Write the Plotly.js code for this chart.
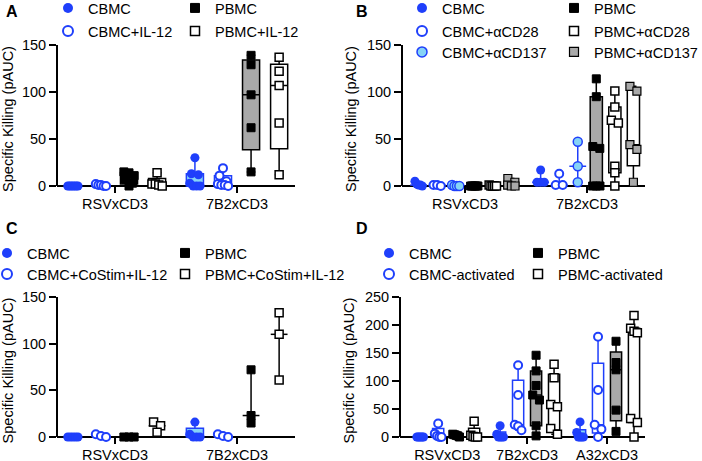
<!DOCTYPE html>
<html>
<head>
<meta charset="utf-8">
<script src="https://cdn.plot.ly/plotly-3.0.1.min.js"></script>
<style>
  html,body{margin:0;padding:0;background:#fff}
  #chart{width:702px;height:461px}
</style>
</head>
<body>
<div id="chart"></div>
<script>
"use strict"

const W = 702, H = 461
const FONT = "Liberation Sans, Arial, Helvetica, sans-serif"
const BLUE = "#1f3ffb", LIGHT = "#86d3f6", GRAY = "#a9a9a9"

// categories
const catsTwo = ["RSVxCD3", "7B2xCD3"]
const catsThree = ["RSVxCD3", "7B2xCD3", "A32xCD3"]

// panel A : one array of donors per category
const aCBMC      = [[0,0,0,0,0,0,0], [30,13,12,3,0,0,0]]
const aCBMC_IL12 = [[2,1,1,0,0], [19,11,5,2,1,1,0]]
const aPBMC      = [[15,14,11,7,3,0], [139,129,97,62,15]]
const aPBMC_IL12 = [[14,2,2,1,0], [137,122,107,67,12]]

// panel B
const bCBMC       = [[5,2,1,1,0], [17,4,4,4]]
const bCBMC_CD28  = [[1,1,0], [13,1,1]]
const bCBMC_CD137 = [[1,0,0,0], [47,21,4]]
const bPBMC       = [[0,0,0,0,0,0], [114,95,42,40,0,0,0]]
const bPBMC_CD28  = [[1,0,0,0,0], [101,84,70,67,21,14,0]]
const bPBMC_CD137 = [[8,4,1,0,0], [106,101,44,39,4]]

// panel C
const cCBMC    = [[0,0,0,0,0], [16,3,0,0,0]]
const cCBMC_CS = [[3,1,0], [3,1,0]]
const cPBMC    = [[0,0,0], [72,23,15]]
const cPBMC_CS = [[16,12,5], [133,110,61]]

// panel D
const dCBMC     = [[0,0,0,0,0,0], [20,5,0,0,0,0], [27,8,0,0,0,0]]
const dCBMC_act = [[24,6,2,0,0], [128,75,22,19,12], [179,84,22,14,0]]
const dPBMC     = [[5,4,3,2,0], [146,118,92,75,66,20,2], [171,133,120,48,10]]
const dPBMC_act = [[28,3,1,0,0], [130,106,58,54,15,5], [217,194,189,186,33,26,0]]

const looks = {
  cbmc:      {symbol:"circle", color:BLUE,    line:BLUE,    lw:0,   size:9, fill:LIGHT,   edge:BLUE},
  cbmcOpen:  {symbol:"circle", color:"#fff",  line:BLUE,    lw:2,   size:8, fill:"#fff",  edge:BLUE},
  cbmcLight: {symbol:"circle", color:LIGHT,   line:BLUE,    lw:1.5, size:9, fill:LIGHT,   edge:BLUE},
  pbmc:      {symbol:"square", color:"#000",  line:"#000",  lw:1,   size:8, fill:GRAY,    edge:"#000"},
  pbmcOpen:  {symbol:"square", color:"#fff",  line:"#000",  lw:1.5, size:8, fill:"#fff",  edge:"#000"},
  pbmcGray:  {symbol:"square", color:GRAY,    line:"#000",  lw:1.2, size:8, fill:"#fff",  edge:"#000"},
}

// px: x pixels of the axis, zero/top: y pixels of 0 and of ymax, leg: legend marker centre in px
const panels = [
  {letter:"A", lx:4, ly:12, cats:catsTwo, ymax:150, dtick:50, px:[57,295], zero:186, top:45,
   range:[-0.475,1.475], slot:0.23, boxW:0.14,
   series:[
     {name:"CBMC",       look:"cbmc",     vals:aCBMC,      kind:"box",   leg:[68,8]},
     {name:"CBMC+IL-12", look:"cbmcOpen", vals:aCBMC_IL12, kind:"box",   leg:[68,31]},
     {name:"PBMC",       look:"pbmc",     vals:aPBMC,      kind:"box",   leg:[195,8]},
     {name:"PBMC+IL-12", look:"pbmcOpen", vals:aPBMC_IL12, kind:"box",   leg:[195,31]},
   ]},
  {letter:"B", lx:354, ly:12, cats:catsTwo, ymax:150, dtick:50, px:[402,645], zero:186, top:45,
   range:[-0.516,1.475], slot:0.152, boxW:0.1,
   series:[
     {name:"CBMC",        look:"cbmc",      vals:bCBMC,       kind:"range", leg:[422,8]},
     {name:"CBMC+αCD28",  look:"cbmcOpen",  vals:bCBMC_CD28,  kind:"range", leg:[422,31]},
     {name:"CBMC+αCD137", look:"cbmcLight", vals:bCBMC_CD137, kind:"range", leg:[422,52]},
     {name:"PBMC",        look:"pbmc",      vals:bPBMC,       kind:"box",   leg:[574,8]},
     {name:"PBMC+αCD28",  look:"pbmcOpen",  vals:bPBMC_CD28,  kind:"box",   leg:[574,31]},
     {name:"PBMC+αCD137", look:"pbmcGray",  vals:bPBMC_CD137, kind:"box",   leg:[574,52]},
   ]},
  {letter:"C", lx:4, ly:228, cats:catsTwo, ymax:150, dtick:50, px:[57,295], zero:437, top:297,
   range:[-0.475,1.475], slot:0.23, boxW:0.14,
   series:[
     {name:"CBMC",               look:"cbmc",     vals:cCBMC,    kind:"box",   leg:[7,253]},
     {name:"CBMC+CoStim+IL-12",  look:"cbmcOpen", vals:cCBMC_CS, kind:"range", leg:[7,274]},
     {name:"PBMC",               look:"pbmc",     vals:cPBMC,    kind:"range", leg:[185,253]},
     {name:"PBMC+CoStim+IL-12",  look:"pbmcOpen", vals:cPBMC_CS, kind:"range", leg:[185,274]},
   ]},
  {letter:"D", lx:354, ly:228, cats:catsThree, ymax:250, dtick:50, px:[400,645], zero:437, top:297,
   range:[-0.59,2.475], slot:0.225, boxW:0.14,
   series:[
     {name:"CBMC",           look:"cbmc",     vals:dCBMC,     kind:"box", leg:[389,253]},
     {name:"CBMC-activated", look:"cbmcOpen", vals:dCBMC_act, kind:"box", leg:[389,274]},
     {name:"PBMC",           look:"pbmc",     vals:dPBMC,     kind:"box", leg:[538,253]},
     {name:"PBMC-activated", look:"pbmcOpen", vals:dPBMC_act, kind:"box", leg:[538,274]},
   ]},
]

// Prism style percentile, rank p*(n+1)
function pct(s, p){
  const n = s.length
  const r = Math.min(Math.max(p*(n+1), 1), n)
  const lo = Math.floor(r), f = r-lo
  return lo>=n ? s[n-1] : s[lo-1] + f*(s[lo]-s[lo-1])
}
function summary(vals){
  const s = [...vals].sort((a,b)=>a-b)
  return {min:s[0], max:s[s.length-1], q1:pct(s,0.25), med:pct(s,0.5), q3:pct(s,0.75)}
}

// points that would sit on top of each other are set side by side, like a column scatter
function spread(vals, yPx, colPx){
  const s = [...vals].sort((a,b)=>b-a)
  const groups = []
  s.forEach(v=>{
    const g = groups[groups.length-1]
    if(g && (g[0]-v)*yPx < 6) g.push(v)
    else groups.push([v])
  })
  const xs = [], ys = []
  groups.forEach(g=>{
    const m = g.length
    const step = m>1 ? Math.min(7, colPx/(m-1)) : 0
    g.forEach((v,j)=>{
      xs.push((j-(m-1)/2)*step)
      ys.push(v)
    })
  })
  return {dx:xs, y:ys}
}

const traces = []
const shapes = []
const annotations = []
const layout = {
  width:W, height:H,
  margin:{l:0, r:0, t:0, b:0, autoexpand:false},
  paper_bgcolor:"#fff", plot_bgcolor:"rgba(0,0,0,0)",
  font:{family:FONT, size:14.5, color:"#000"},
  boxmode:"overlay",
  showlegend:true,
  shapes:shapes, annotations:annotations,
}

const PAD = 7   // px between the zero line and the bottom of the plot area
let legendCount = 0

panels.forEach((p,k)=>{
  const xa = k===0 ? "x" : "x"+(k+1)
  const ya = k===0 ? "y" : "y"+(k+1)
  const yPx = (p.zero-p.top)/p.ymax
  const xPx = (p.px[1]-p.px[0])/(p.range[1]-p.range[0])
  const ymin = -PAD/yPx
  const ticks = []
  for(let v=0; v<=p.ymax; v+=p.dtick) ticks.push(v)

  layout["xaxis"+(k?k+1:"")] = {
    domain:[p.px[0]/W, p.px[1]/W], anchor:ya, type:"linear", range:p.range,
    tickvals:p.cats.map((c,i)=>i), ticktext:p.cats,
    ticks:"inside", ticklen:PAD, tickwidth:2, tickcolor:"#000",
    showgrid:false, zeroline:false, showline:false, fixedrange:true,
    tickfont:{size:14.5},
  }
  layout["yaxis"+(k?k+1:"")] = {
    domain:[1-(p.zero+PAD)/H, 1-p.top/H], anchor:xa, type:"linear", range:[ymin, p.ymax],
    tickvals:ticks, ticks:"outside", ticklen:7, tickwidth:2, tickcolor:"#000",
    showgrid:false, showline:false, fixedrange:true,
    zeroline:true, zerolinecolor:"#000", zerolinewidth:2,
    tickfont:{size:14.5},
    title:{text:"Specific Killing (pAUC)", font:{size:14.5}, standoff:6},
  }
  shapes.push({type:"line", xref:xa+" domain", yref:ya, x0:0, x1:0, y0:0, y1:p.ymax,
               line:{color:"#000", width:2}})
  annotations.push({text:"<b>"+p.letter+"</b>", xref:"paper", yref:"paper",
                    x:p.lx/W, y:1-p.ly/H, xanchor:"left", yanchor:"middle",
                    showarrow:false, font:{size:16}})

  const n = p.series.length
  const colPx = 0.6*p.boxW*xPx
  p.series.forEach((s,i)=>{
    const lk = looks[s.look]
    const off = (i-(n-1)/2)*p.slot
    const marker = {symbol:lk.symbol, size:lk.size, color:lk.color, line:{color:lk.line, width:lk.lw}}

    s.vals.forEach((v,c)=>{
      const pos = c+off
      const st = summary(v)
      if(s.kind==="box"){
        traces.push({
          type:"box", xaxis:xa, yaxis:ya, x:[pos],
          q1:[st.q1], median:[st.med], q3:[st.q3], lowerfence:[st.min], upperfence:[st.max],
          width:p.boxW, fillcolor:lk.fill, line:{color:lk.edge, width:1.5},
          boxpoints:false, hoverinfo:"skip", showlegend:false,
        })
      } else {
        traces.push({
          type:"scatter", mode:"markers", xaxis:xa, yaxis:ya, x:[pos], y:[st.med],
          marker:{symbol:"line-ew-open", size:12, color:lk.edge, line:{width:1.5}},
          error_y:{type:"data", symmetric:false, array:[st.max-st.med], arrayminus:[st.med-st.min],
                   color:lk.edge, thickness:1.5, width:0},
          cliponaxis:false, hoverinfo:"skip", showlegend:false,
        })
      }
      // the donors themselves
      const pts = spread(v, yPx, colPx)
      traces.push({
        type:"scatter", mode:"markers", xaxis:xa, yaxis:ya,
        x:pts.dx.map(d=>pos+d/xPx), y:pts.y,
        marker:marker, cliponaxis:false, hoverinfo:"skip", showlegend:false,
      })
    })

    // legend entry, one small legend per entry so it sits where the figure has it
    legendCount++
    const lname = legendCount===1 ? "legend" : "legend"+legendCount
    layout[lname] = {
      x:(s.leg[0]-20)/W, y:1-s.leg[1]/H, xanchor:"left", yanchor:"middle",
      orientation:"h", bgcolor:"rgba(0,0,0,0)", borderwidth:0,
      font:{family:FONT, size:14.5, color:"#000"}, itemclick:false, itemdoubleclick:false,
    }
    traces.push({
      type:"scatter", mode:"markers", xaxis:xa, yaxis:ya, x:[null], y:[null],
      name:s.name, legend:lname, showlegend:true,
      marker:{symbol:lk.symbol, size:lk.symbol==="square"?9:10, color:lk.color,
              line:{color:lk.line, width:lk.lw}},
    })
  })
})

Plotly.newPlot("chart", traces, layout, {displayModeBar:false, staticPlot:true})
</script>
</body>
</html>
